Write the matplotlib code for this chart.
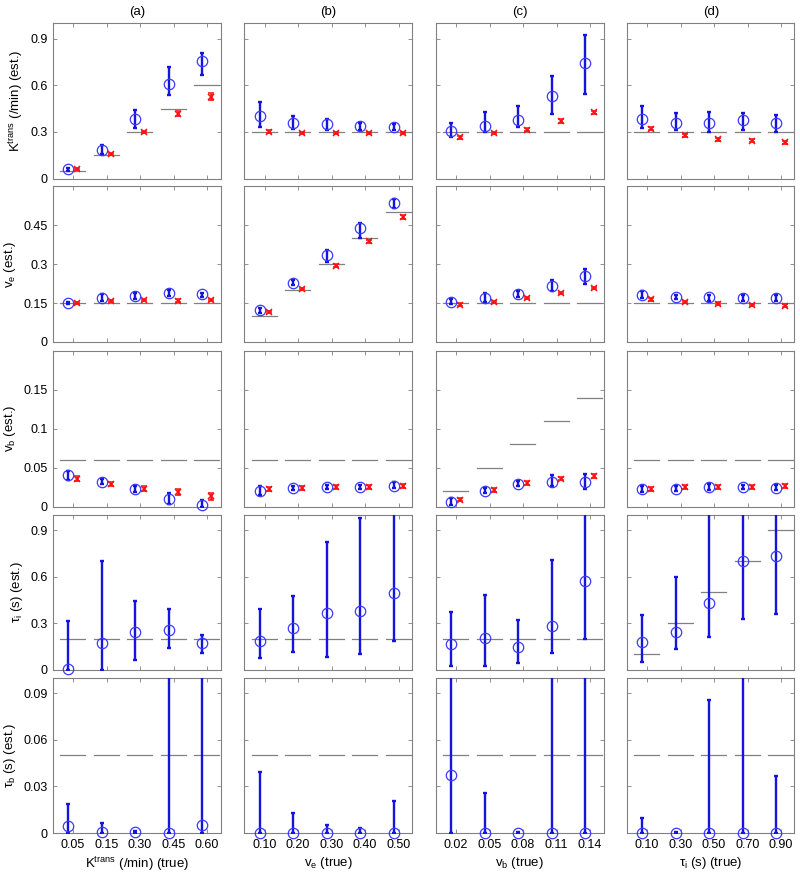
import numpy as np
import matplotlib
matplotlib.use("Agg")
import matplotlib.pyplot as plt

plt.rcParams['font.family'] = ['Liberation Sans', 'DejaVu Sans']
plt.rcParams['mathtext.default'] = 'regular'

col_titles = ["(a)", "(b)", "(c)", "(d)"]
x_labels = ["K$^{trans}$ (/min) (true)", "v$_e$ (true)", "v$_b$ (true)", "τ$_i$ (s) (true)"]
x_ticklabels = [["0.05", "0.15", "0.30", "0.45", "0.60"],
                ["0.10", "0.20", "0.30", "0.40", "0.50"],
                ["0.02", "0.05", "0.08", "0.11", "0.14"],
                ["0.10", "0.30", "0.50", "0.70", "0.90"]]
y_labels = ["K$^{trans}$ (/min) (est.)", "v$_e$ (est.)", "v$_b$ (est.)",
            "τ$_i$ (s) (est.)", "τ$_b$ (s) (est.)"]
y_limits = [1.0, 0.6, 0.2, 1.0, 0.1]
y_ticks = [[0, 0.3, 0.6, 0.9], [0, 0.15, 0.3, 0.45], [0, 0.05, 0.1, 0.15],
           [0, 0.3, 0.6, 0.9], [0, 0.03, 0.06, 0.09]]
y_ticklabels = [["0", "0.3", "0.6", "0.9"], ["0", "0.15", "0.3", "0.45"],
                ["0", "0.05", "0.1", "0.15"], ["0", "0.3", "0.6", "0.9"],
                ["0", "0.03", "0.06", "0.09"]]

# true values, one list per column (a..d)
true_ktrans = [[0.05, 0.15, 0.30, 0.45, 0.60], [0.3] * 5, [0.3] * 5, [0.3] * 5]
true_ve = [[0.15] * 5, [0.1, 0.2, 0.3, 0.4, 0.5], [0.15] * 5, [0.15] * 5]
true_vb = [[0.06] * 5, [0.06] * 5, [0.02, 0.05, 0.08, 0.11, 0.14], [0.06] * 5]
true_ti = [[0.2] * 5, [0.2] * 5, [0.2] * 5, [0.1, 0.3, 0.5, 0.7, 0.9]]
true_tb = [[0.05] * 5, [0.05] * 5, [0.05] * 5, [0.05] * 5]

# blue: estimate with lower / upper bounds
ktrans_blue = [[0.06, 0.185, 0.385, 0.61, 0.755], [0.405, 0.36, 0.35, 0.335, 0.33],
               [0.305, 0.34, 0.375, 0.53, 0.745], [0.38, 0.355, 0.355, 0.375, 0.36]]
ktrans_blue_lo = [[0.05, 0.157, 0.327, 0.535, 0.667], [0.33, 0.32, 0.315, 0.315, 0.315],
                  [0.27, 0.30, 0.33, 0.415, 0.545], [0.325, 0.31, 0.30, 0.31, 0.30]]
ktrans_blue_hi = [[0.07, 0.213, 0.443, 0.714, 0.808], [0.49, 0.40, 0.385, 0.36, 0.35],
                  [0.355, 0.425, 0.465, 0.66, 0.92], [0.465, 0.42, 0.43, 0.42, 0.41]]
ktrans_red = [[0.06, 0.159, 0.299, 0.417, 0.525], [0.30, 0.29, 0.29, 0.29, 0.29],
              [0.265, 0.29, 0.315, 0.37, 0.425], [0.32, 0.277, 0.252, 0.243, 0.232]]
ktrans_red_err = [[0.006, 0.006, 0.008, 0.016, 0.022], [0.01, 0.006, 0.006, 0.006, 0.006],
                  [0.01, 0.007, 0.01, 0.01, 0.01], [0.01, 0.01, 0.01, 0.01, 0.01]]

ve_blue = [[0.15, 0.171, 0.179, 0.188, 0.184], [0.124, 0.229, 0.337, 0.44, 0.538],
           [0.155, 0.168, 0.184, 0.218, 0.254], [0.183, 0.173, 0.172, 0.17, 0.17]]
ve_blue_lo = [[0.145, 0.16, 0.165, 0.177, 0.175], [0.113, 0.22, 0.307, 0.403, 0.518],
              [0.145, 0.153, 0.174, 0.196, 0.225], [0.17, 0.165, 0.16, 0.16, 0.16]]
ve_blue_hi = [[0.156, 0.184, 0.19, 0.2, 0.19], [0.133, 0.24, 0.355, 0.459, 0.553],
              [0.165, 0.189, 0.195, 0.241, 0.282], [0.196, 0.183, 0.183, 0.182, 0.18]]
ve_red = [[0.15, 0.158, 0.162, 0.16, 0.162], [0.115, 0.205, 0.294, 0.388, 0.483],
          [0.144, 0.155, 0.17, 0.189, 0.208], [0.164, 0.155, 0.148, 0.142, 0.14]]
ve_red_err = [[0.005] * 5, [0.005, 0.005, 0.006, 0.006, 0.008], [0.005] * 5, [0.005] * 5]

vb_blue = [[0.040, 0.032, 0.022, 0.0095, 0.0013], [0.020, 0.024, 0.025, 0.025, 0.027],
           [0.006, 0.020, 0.029, 0.032, 0.032], [0.022, 0.023, 0.025, 0.025, 0.024]]
vb_blue_lo = [[0.034, 0.029, 0.019, 0.003, 0.0], [0.015, 0.021, 0.022, 0.022, 0.024],
              [0.002, 0.017, 0.026, 0.026, 0.022], [0.019, 0.020, 0.021, 0.022, 0.021]]
vb_blue_hi = [[0.046, 0.036, 0.026, 0.017, 0.008], [0.026, 0.027, 0.028, 0.028, 0.031],
              [0.011, 0.024, 0.033, 0.040, 0.042], [0.026, 0.027, 0.029, 0.028, 0.028]]
vb_red = [[0.036, 0.029, 0.023, 0.0185, 0.013], [0.022, 0.024, 0.025, 0.025, 0.026],
          [0.009, 0.021, 0.030, 0.036, 0.039], [0.023, 0.025, 0.025, 0.025, 0.026]]
vb_red_err = [[0.003, 0.003, 0.003, 0.004, 0.005], [0.0025] * 5, [0.0025] * 5, [0.0025] * 5]

ti_blue = [[0.004, 0.172, 0.247, 0.26, 0.172], [0.187, 0.27, 0.368, 0.38, 0.497],
           [0.168, 0.206, 0.148, 0.284, 0.574], [0.18, 0.245, 0.432, 0.70, 0.73]]
ti_blue_lo = [[0.0, 0.0, 0.067, 0.14, 0.11], [0.077, 0.116, 0.084, 0.10, 0.187],
              [0.026, 0.026, 0.045, 0.11, 0.20], [0.05, 0.135, 0.213, 0.33, 0.36]]
ti_blue_hi = [[0.312, 0.704, 0.441, 0.392, 0.224], [0.39, 0.477, 0.826, 0.98, 1.05],
              [0.37, 0.484, 0.32, 0.71, 1.05], [0.355, 0.60, 1.05, 1.05, 1.05]]

tb_blue = [[0.0043, 0.0005, 0.0005, 0.0, 0.0053], [0.0, 0.0, 0.0, 0.0, 0.0],
           [0.037, 0.0, 0.0, 0.0, 0.0], [0.0, 0.0, 0.0, 0.0, 0.0]]
tb_blue_lo = [[0.0] * 5, [0.0] * 5, [0.0] * 5, [0.0] * 5]
tb_blue_hi = [[0.0186, 0.0062, 0.0015, 0.105, 0.105], [0.039, 0.013, 0.005, 0.003, 0.0205],
              [0.105, 0.026, 0.0008, 0.105, 0.105], [0.0098, 0.0008, 0.0857, 0.105, 0.0368]]

rows = [
    (true_ktrans, ktrans_blue, ktrans_blue_lo, ktrans_blue_hi, ktrans_red, ktrans_red_err),
    (true_ve, ve_blue, ve_blue_lo, ve_blue_hi, ve_red, ve_red_err),
    (true_vb, vb_blue, vb_blue_lo, vb_blue_hi, vb_red, vb_red_err),
    (true_ti, ti_blue, ti_blue_lo, ti_blue_hi, None, None),
    (true_tb, tb_blue, tb_blue_lo, tb_blue_hi, None, None),
]

W, H = 800, 873
fig = plt.figure(figsize=(8, 8.73), dpi=100)
col_left = [53, 244.5, 436, 627]
row_top = [23, 186.5, 351, 514.5, 677.5]
aw, ah = 167.5, 155.5
gray = '#808080'
x = np.arange(1, 6)

for r, (tv, bm, blo, bhi, rm, rerr) in enumerate(rows):
    for c in range(4):
        ax = fig.add_axes([col_left[c] / W, 1 - (row_top[r] + ah) / H, aw / W, ah / H])
        # true value segments
        for i in range(5):
            ax.plot([x[i] - 0.38, x[i] + 0.37], [tv[c][i]] * 2, color=gray, lw=0.9, zorder=1)
        m = np.array(bm[c])
        lo = m - np.array(blo[c])
        hi = np.array(bhi[c]) - m
        ax.errorbar(x - 0.14, m, yerr=[lo, hi], fmt='none', ecolor='#1414dc',
                    elinewidth=1.7, capsize=1.5, capthick=1.7, zorder=3)
        ax.plot(x - 0.14, m, 'o', mfc='none', mec='#3a3aff', ms=7.5, mew=0.9,
                clip_on=False, zorder=4)
        if rm is not None:
            ax.errorbar(x + 0.12, rm[c], yerr=rerr[c], fmt='x', color='#ff1010',
                        ms=4.5, mew=1.1, elinewidth=1.8, capsize=2, capthick=1.4, zorder=3)
        ax.set_xlim(0.4, 5.4)
        ax.set_ylim(0, y_limits[r])
        ax.set_xticks(x)
        ax.set_yticks(y_ticks[r])
        ax.tick_params(direction='in', length=3, width=0.6, color=gray,
                       top=True, right=True, labelsize=9, pad=4)
        for s in ax.spines.values():
            s.set_color(gray)
            s.set_linewidth(0.8)
        if c == 0:
            ax.set_yticklabels(y_ticklabels[r])
            ax.set_ylabel(y_labels[r], fontsize=9.5, labelpad=4)
        else:
            ax.set_yticklabels([])
        if r == 4:
            ax.set_xticklabels(x_ticklabels[c])
            ax.set_xlabel(x_labels[c], fontsize=9.5, labelpad=3)
        else:
            ax.set_xticklabels([])
        if r == 0:
            ax.set_title(col_titles[c], fontsize=9.5, pad=6)

fig.savefig("out.png", dpi=100)
